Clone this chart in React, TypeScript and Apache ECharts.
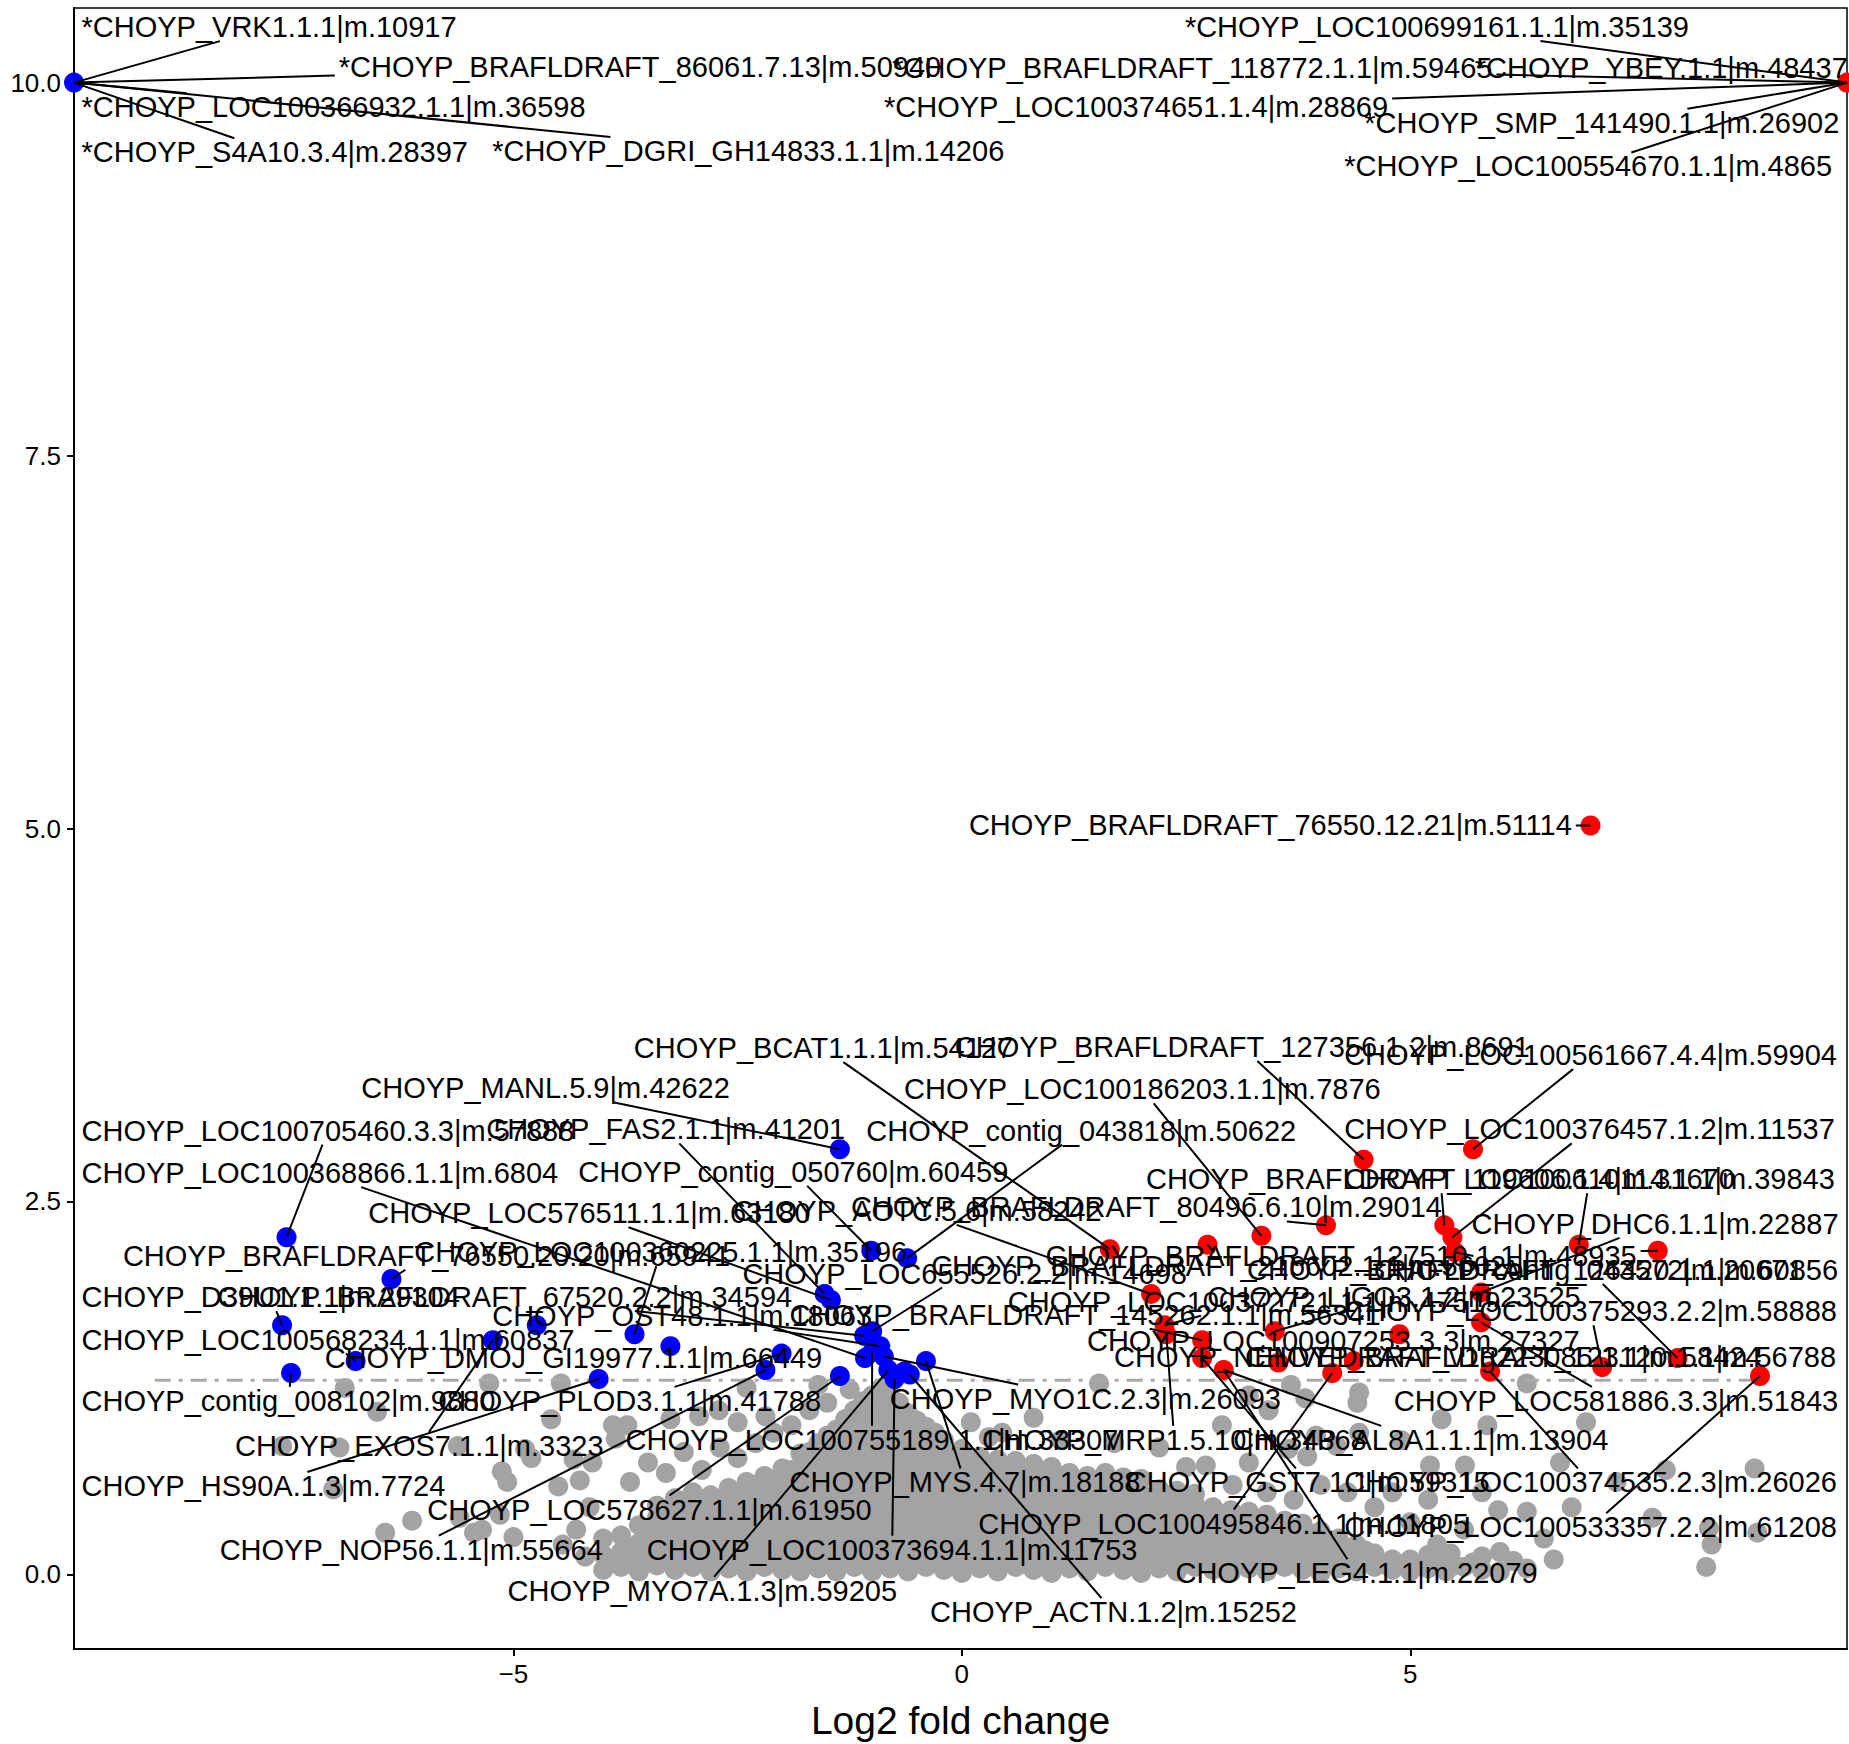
import React, { useEffect, useRef } from "react";
import * as echarts from "echarts";

// ---------- axes ----------
const xTicks = [-5, 0, 5];
const yTicks = [0, 2.5, 5, 7.5, 10];
const xTitle = "Log2 fold change";
const thresholdY = 1.301;
const thresholdX = [-9, 9];

// ---------- non-significant points (grey cloud), columns: [x, ys] ----------
const grayColumns: [number, number[]][] = [
  [-4.0, [0.03, 0.13, 0.24]],
  [-3.9, [0.08]],
  [-3.8, [0.05, 0.15, 0.26]],
  [-3.7, [0.07, 0.18]],
  [-3.6, [0.02, 0.11, 0.21, 0.33]],
  [-3.5, [0.08, 0.19, 0.3]],
  [-3.4, [0.06, 0.16, 0.27, 0.38, 0.46]],
  [-3.3, [0.09, 0.19, 0.29, 0.4]],
  [-3.2, [0.03, 0.12, 0.23, 0.34, 0.44, 0.51]],
  [-3.1, [0.08, 0.18, 0.29, 0.39, 0.49]],
  [-3.0, [0.05, 0.15, 0.25, 0.36, 0.47, 0.55]],
  [-2.9, [0.09, 0.19, 0.3, 0.41, 0.5]],
  [-2.8, [0.02, 0.12, 0.22, 0.32, 0.43, 0.53]],
  [-2.7, [0.08, 0.18, 0.29, 0.4, 0.5]],
  [-2.6, [0.04, 0.14, 0.25, 0.35, 0.46, 0.58]],
  [-2.5, [0.09, 0.19, 0.3, 0.4, 0.52]],
  [-2.4, [0.02, 0.11, 0.21, 0.31, 0.42, 0.52, 0.62]],
  [-2.3, [0.07, 0.17, 0.28, 0.39, 0.5, 0.6]],
  [-2.2, [0.05, 0.15, 0.26, 0.36, 0.47, 0.57, 0.66]],
  [-2.1, [0.09, 0.19, 0.3, 0.41, 0.52, 0.62]],
  [-2.0, [0.03, 0.13, 0.23, 0.33, 0.44, 0.55, 0.64, 0.71]],
  [-1.9, [0.08, 0.18, 0.28, 0.38, 0.49, 0.6, 0.7]],
  [-1.8, [0.02, 0.12, 0.22, 0.32, 0.42, 0.52, 0.62, 0.72, 0.81]],
  [-1.7, [0.07, 0.17, 0.28, 0.39, 0.5, 0.61, 0.72, 0.82]],
  [-1.6, [0.04, 0.14, 0.24, 0.35, 0.45, 0.56, 0.66, 0.77, 0.88]],
  [-1.5, [0.09, 0.19, 0.3, 0.4, 0.5, 0.6, 0.71, 0.82, 0.93]],
  [-1.4, [0.02, 0.12, 0.22, 0.33, 0.43, 0.54, 0.64, 0.75, 0.86, 0.97]],
  [-1.3, [0.08, 0.18, 0.28, 0.39, 0.49, 0.6, 0.71, 0.82, 0.93, 1.04]],
  [-1.2, [0.05, 0.15, 0.25, 0.36, 0.46, 0.57, 0.67, 0.78, 0.89, 1.0, 1.1]],
  [-1.1, [0.07, 0.17, 0.29, 0.4, 0.5, 0.61, 0.72, 0.83, 0.94, 1.05, 1.16]],
  [-1.0, [0.02, 0.12, 0.23, 0.33, 0.44, 0.55, 0.65, 0.76, 0.87, 0.98, 1.09, 1.2]],
  [-0.9, [0.09, 0.19, 0.3, 0.41, 0.51, 0.62, 0.73, 0.83, 0.94, 1.05, 1.16, 1.25]],
  [-0.8, [0.04, 0.14, 0.25, 0.35, 0.46, 0.56, 0.67, 0.78, 0.88, 0.99, 1.1, 1.21]],
  [-0.7, [0.08, 0.18, 0.29, 0.4, 0.51, 0.61, 0.72, 0.83, 0.93, 1.04, 1.15]],
  [-0.6, [0.02, 0.12, 0.22, 0.33, 0.43, 0.54, 0.65, 0.75, 0.86, 0.97, 1.08]],
  [-0.5, [0.07, 0.17, 0.28, 0.39, 0.5, 0.61, 0.72, 0.82, 0.93, 1.03]],
  [-0.4, [0.05, 0.15, 0.26, 0.36, 0.47, 0.57, 0.68, 0.79, 0.9, 0.99]],
  [-0.3, [0.09, 0.19, 0.3, 0.4, 0.51, 0.62, 0.72, 0.84, 0.95]],
  [-0.2, [0.03, 0.13, 0.23, 0.34, 0.44, 0.55, 0.66, 0.77, 0.9]],
  [-0.1, [0.08, 0.18, 0.28, 0.39, 0.49, 0.6, 0.71, 0.8]],
  [0.0, [0.01, 0.11, 0.21, 0.31, 0.42, 0.53, 0.64, 0.75, 0.84]],
  [0.1, [0.07, 0.17, 0.28, 0.39, 0.5, 0.61, 0.72]],
  [0.2, [0.04, 0.14, 0.24, 0.35, 0.46, 0.57, 0.68, 0.79]],
  [0.3, [0.09, 0.19, 0.29, 0.39, 0.5, 0.61, 0.71]],
  [0.4, [0.02, 0.12, 0.22, 0.33, 0.44, 0.55, 0.66, 0.77]],
  [0.5, [0.08, 0.18, 0.29, 0.4, 0.51, 0.62, 0.7]],
  [0.6, [0.05, 0.15, 0.25, 0.36, 0.47, 0.58, 0.69, 0.76]],
  [0.7, [0.07, 0.17, 0.28, 0.39, 0.5, 0.6, 0.69]],
  [0.8, [0.03, 0.13, 0.23, 0.34, 0.45, 0.55, 0.65, 0.74]],
  [0.9, [0.09, 0.19, 0.3, 0.4, 0.5, 0.6, 0.68]],
  [1.0, [0.01, 0.11, 0.21, 0.32, 0.43, 0.53, 0.63, 0.72]],
  [1.1, [0.08, 0.18, 0.28, 0.38, 0.48, 0.58, 0.66]],
  [1.2, [0.04, 0.14, 0.25, 0.35, 0.46, 0.57, 0.68]],
  [1.3, [0.07, 0.17, 0.28, 0.39, 0.5, 0.6]],
  [1.4, [0.02, 0.12, 0.22, 0.33, 0.44, 0.55, 0.66]],
  [1.5, [0.09, 0.19, 0.3, 0.4, 0.51, 0.6]],
  [1.6, [0.05, 0.15, 0.26, 0.36, 0.47, 0.58, 0.68]],
  [1.7, [0.08, 0.18, 0.29, 0.4, 0.5, 0.6]],
  [1.8, [0.03, 0.13, 0.23, 0.34, 0.45, 0.56, 0.65]],
  [1.9, [0.07, 0.17, 0.28, 0.39, 0.5, 0.59]],
  [2.0, [0.01, 0.11, 0.22, 0.32, 0.43, 0.54, 0.64]],
  [2.1, [0.09, 0.19, 0.29, 0.39, 0.5]],
  [2.2, [0.04, 0.14, 0.24, 0.35, 0.46, 0.57]],
  [2.3, [0.08, 0.18, 0.28, 0.38, 0.49]],
  [2.4, [0.02, 0.12, 0.23, 0.33, 0.44, 0.56]],
  [2.5, [0.07, 0.17, 0.28, 0.39, 0.48]],
  [2.6, [0.05, 0.15, 0.26, 0.36, 0.47, 0.54]],
  [2.7, [0.09, 0.19, 0.3, 0.4]],
  [2.8, [0.03, 0.13, 0.23, 0.34, 0.45]],
  [2.9, [0.08, 0.18, 0.28, 0.38]],
  [3.0, [0.01, 0.11, 0.22, 0.32, 0.43]],
  [3.1, [0.07, 0.17, 0.27, 0.37]],
  [3.2, [0.04, 0.14, 0.24, 0.35, 0.42]],
  [3.3, [0.09, 0.19, 0.29]],
  [3.4, [0.02, 0.12, 0.23, 0.33, 0.4]],
  [3.5, [0.08, 0.18, 0.29]],
  [3.6, [0.05, 0.15, 0.26, 0.36]],
  [3.7, [0.07, 0.17, 0.28]],
  [3.8, [0.03, 0.13, 0.23, 0.34]],
  [3.9, [0.09, 0.19, 0.27]],
  [4.0, [0.01, 0.11, 0.21, 0.29]],
  [4.1, [0.08, 0.18]],
  [4.2, [0.04, 0.14, 0.24]],
  [4.3, [0.07, 0.17]],
  [4.4, [0.02, 0.12, 0.2]],
  [4.5, [0.08, 0.16]],
  [4.6, [0.05, 0.14]],
  [4.7, [0.07]],
  [4.8, [0.03, 0.1]],
  [4.9, [0.07]],
  [5.0, [0.02, 0.1]],
  [5.1, [0.06]],
  [5.2, [0.04, 0.13]],
  [5.3, [0.07]],
  [5.4, [0.02, 0.09]],
  [5.5, [0.06]],
  [5.6, [0.05]],
  [5.7, [0.08]],
  [5.8, [0.03, 0.12]],
  [6.0, [0.02]],
  [6.15, [0.09]],
  [6.3, [0.04]],
];

const graySparse: [number, number][] = [
  [-7.58, 0.86], [-6.94, 0.85], [-6.88, 1.25], [-6.52, 1.09], [-7.01, 0.57], [-6.43, 0.28],
  [-6.13, 0.36], [-5.62, 0.86], [-5.27, 1.28], [-5.44, 0.28], [-5.13, 0.69], [-5.07, 0.62],
  [-4.87, 0.84], [-4.8, 0.78], [-4.58, 1.04], [-4.47, 1.28], [-3.89, 1.0], [-3.86, 0.91],
  [-5.6, 0.38], [-5.35, 0.3], [-5.15, 0.4], [-5.0, 0.25], [-4.33, 0.77], [-4.12, 0.75],
  [-4.26, 0.63], [-4.5, 0.59], [-4.3, 0.3], [-4.15, 0.45], [-4.2, 0.12], [-4.45, 0.2],
  [-3.73, 1.0], [-3.25, 1.04], [-2.93, 1.06], [-2.71, 1.1], [-2.5, 1.02], [-2.19, 1.06],
  [-3.7, 0.62], [-3.5, 0.75], [-3.3, 0.68], [-3.1, 0.82], [-2.9, 0.7], [-2.7, 0.85],
  [-2.5, 0.78], [-2.3, 0.88], [-2.1, 0.95], [-1.9, 1.0], [-1.7, 1.1], [-1.5, 1.15],
  [-2.4, 1.25], [-1.6, 1.27], [-1.25, 1.24],
  [0.45, 0.95], [1.1, 0.9], [1.7, 0.88], [2.2, 0.85], [0.1, 1.02], [0.3, 0.92], [1.53, 1.28],
  [0.8, 1.05], [2.5, 0.72],
  [3.67, 1.27], [4.43, 1.22], [3.83, 1.18], [4.41, 1.15], [3.42, 1.1], [3.95, 0.93], [4.18, 0.86],
  [4.43, 0.95], [3.64, 0.84], [3.85, 0.79], [2.72, 0.73], [3.02, 0.6], [3.2, 0.75], [3.4, 0.55],
  [3.7, 0.5], [4.0, 0.6], [4.3, 0.55], [4.6, 0.45], [4.8, 0.55], [2.9, 1.0], [3.2, 1.2],
  [5.35, 1.04], [5.86, 1.0], [5.22, 0.73], [5.61, 0.73], [5.98, 0.43], [6.3, 0.42], [6.3, 1.28],
  [6.96, 1.02], [8.84, 0.71], [8.36, 0.2], [8.87, 0.28], [7.85, 0.7], [6.49, 0.24], [6.67, 0.75],
  [5.45, 0.14], [5.0, 0.35], [5.2, 0.5], [4.9, 0.9], [5.6, 0.3], [6.0, 0.15], [6.8, 0.45],
  [7.3, 0.62], [7.7, 0.38], [8.33, 0.31], [5.3, 0.2], [5.8, 0.55], [8.3, 0.05], [6.6, 0.1],
];

// ---------- significant points ----------
const bluePoints: [number, number][] = [
  [-9.9, 10], [-7.53, 2.26], [-6.36, 1.98], [-7.58, 1.67], [-7.48, 1.35], [-6.76, 1.43],
  [-5.23, 1.57], [-4.74, 1.67], [-4.05, 1.31], [-3.65, 1.61], [-3.25, 1.53], [-2.01, 1.48],
  [-2.19, 1.37], [-1.36, 1.33], [-1.36, 2.85], [-1.01, 2.17], [-0.61, 2.12], [-1.53, 1.88],
  [-1.46, 1.84], [-1.09, 1.6], [-1.0, 1.63], [-1.08, 1.45], [-1.0, 1.49], [-0.87, 1.46],
  [-0.82, 1.37], [-0.75, 1.31], [-0.64, 1.36], [-0.58, 1.34], [-0.4, 1.43], [-0.91, 1.53],
];

const redPoints: [number, number][] = [
  [9.87, 10], [7.01, 5.02], [1.65, 2.18], [2.74, 2.21], [3.34, 2.27], [4.06, 2.34],
  [4.48, 2.78], [5.7, 2.85], [5.38, 2.34], [5.47, 2.26], [5.5, 2.16], [6.88, 2.21],
  [7.76, 2.17], [2.11, 1.88], [2.26, 1.67], [2.28, 1.61], [2.68, 1.57], [2.68, 1.45],
  [2.92, 1.37], [3.49, 1.63], [3.53, 1.42], [4.13, 1.35], [4.37, 1.43], [4.88, 1.61],
  [5.79, 1.89], [5.79, 1.69], [5.89, 1.36], [7.14, 1.39], [7.98, 1.45], [8.9, 1.33],
];

// ---------- labels ----------
const labelTexts: string[] = [
  "*CHOYP_VRK1.1.1|m.10917",
  "*CHOYP_BRAFLDRAFT_86061.7.13|m.50940",
  "*CHOYP_LOC100366932.1.1|m.36598",
  "*CHOYP_S4A10.3.4|m.28397",
  "*CHOYP_DGRI_GH14833.1.1|m.14206",
  "*CHOYP_LOC100699161.1.1|m.35139",
  "*CHOYP_BRAFLDRAFT_118772.1.1|m.59465",
  "*CHOYP_YBEY.1.1|m.48437",
  "*CHOYP_LOC100374651.1.4|m.28869",
  "*CHOYP_SMP_141490.1.1|m.26902",
  "*CHOYP_LOC100554670.1.1|m.4865",
  "CHOYP_BRAFLDRAFT_76550.12.21|m.51114",
  "CHOYP_LOC100705460.3.3|m.57888",
  "CHOYP_FAS2.1.1|m.41201",
  "CHOYP_MANL.5.9|m.42622",
  "CHOYP_BCAT1.1.1|m.54127",
  "CHOYP_LOC100368866.1.1|m.6804",
  "CHOYP_contig_050760|m.60459",
  "CHOYP_contig_043818|m.50622",
  "CHOYP_LOC576511.1.1|m.63180",
  "CHOYP_AOTC.5.6|m.58242",
  "CHOYP_BRAFLDRAFT_76550.20.20|m.65941",
  "CHOYP_LOC100360225.1.1|m.35196",
  "CHOYP_D39U1.1.1|m.29304",
  "CHOYP_BRAFLDRAFT_67520.2.2|m.34594",
  "CHOYP_LOC100568234.1.1|m.60837",
  "CHOYP_OST48.1.1|m.18063",
  "CHOYP_DMOJ_GI19977.1.1|m.66449",
  "CHOYP_contig_008102|m.9880",
  "CHOYP_PLOD3.1.1|m.41788",
  "CHOYP_EXOS7.1.1|m.3323",
  "CHOYP_HS90A.1.3|m.7724",
  "CHOYP_NOP56.1.1|m.55664",
  "CHOYP_LOC578627.1.1|m.61950",
  "CHOYP_LOC100755189.1.1|m.33307",
  "CHOYP_MYO1C.2.3|m.26093",
  "CHOYP_MYS.4.7|m.18188",
  "CHOYP_LOC100373694.1.1|m.11753",
  "CHOYP_MYO7A.1.3|m.59205",
  "CHOYP_ACTN.1.2|m.15252",
  "CHOYP_BRAFLDRAFT_127356.1.2|m.8691",
  "CHOYP_LOC100561667.4.4|m.59904",
  "CHOYP_LOC100186203.1.1|m.7876",
  "CHOYP_LOC100376457.1.2|m.11537",
  "CHOYP_BRAFLDRAFT_80496.6.10|m.29014",
  "CHOYP_BRAFLDRAFT_119606.1.4|m.31670",
  "CHOYP_LOC100610114.1.1|m.39843",
  "CHOYP_DHC6.1.1|m.22887",
  "CHOYP_BRAFLDRAFT_127510.1.1|m.48935",
  "CHOYP_contig_043572|m.20671",
  "CHOYP_LOC655526.2.2|m.14698",
  "CHOYP_BRAFLDRAFT_216602.1.1|m.56025",
  "CHOYP_BRAFLDRAFT_126420.1.1|m.60856",
  "CHOYP_LOC100372721.1.1|m.47519",
  "CHOYP_LIGO3.1.2|m.23525",
  "CHOYP_LOC100375293.2.2|m.58888",
  "CHOYP_LOC100907253.3.3|m.27327",
  "CHOYP_NEMVEDRAFT_v1g223085.1.1|m.58424",
  "CHOYP_BRAFLDRAFT_123120.1.1|m.56788",
  "CHOYP_LOC581886.3.3|m.51843",
  "CHOYP_AL8A1.1.1|m.13904",
  "CHOYP_GST7.1.1|m.59315",
  "CHOYP_LOC100374535.2.3|m.26026",
  "CHOYP_LOC100495846.1.1|m.11805",
  "CHOYP_LOC100533357.2.2|m.61208",
  "CHOYP_LEG4.1.1|m.22079",
  "CHOYP_MRP1.5.10|m.34368",
  "CHOYP_BRAFLDRAFT_145262.1.1|m.56341",
];

// which point each label belongs to: "b<i>" blue, "r<i>" red
const labelPointRefs: string[] = [
  "b0", "b0", "b0", "b0", "b0", "r0", "r0", "r0", "r0", "r0", "r0", "r1",
  "b1", "b17", "b14", "r2", "b21", "b15", "b16", "b18", "r13", "b2", "b9", "b3",
  "b19", "b5", "b29", "b10", "b4", "b11", "b6", "b8", "b12", "b13", "b22", "b23",
  "b28", "b25", "b24", "b27",
  "r6", "r7", "r4", "r9", "r5", "r8", "r11", "r24", "r12", "r28", "b20", "r3",
  "r10", "r14", "r19", "r27", "r23", "r20", "r22", "r25", "r18", "r17", "r26", "r21",
  "r29", "r18", "r15", "r16",
];

// label anchor: [left x, centre y] in data units
const labelAnchors: [number, number][] = [
  [-9.816, 10.372], [-6.947, 10.103], [-9.816, 9.834], [-9.816, 9.533], [-5.237, 9.541],
  [2.487, 10.372], [-0.776, 10.1], [5.72, 10.095], [-0.868, 9.834], [4.487, 9.731], [4.263, 9.438],
  [0.079, 5.024],
  [-9.816, 2.975], [-5.303, 2.983], [-6.697, 3.259], [-3.658, 3.528], [-9.816, 2.69],
  [-4.276, 2.698], [-1.066, 2.975], [-6.618, 2.421], [-2.553, 2.437], [-9.355, 2.136],
  [-6.105, 2.16], [-9.816, 1.859], [-8.303, 1.859], [-9.816, 1.574], [-5.237, 1.733],
  [-7.105, 1.448], [-9.816, 1.163], [-5.842, 1.163], [-8.105, 0.862], [-9.816, 0.593],
  [-8.276, 0.166], [-5.961, 0.435], [-3.75, 0.902], [-0.803, 1.179], [-1.921, 0.617],
  [-3.513, 0.166], [-5.066, -0.111], [-0.355, -0.253],
  [-0.079, 3.536], [4.263, 3.481], [-0.645, 3.252], [4.263, 2.983], [-1.237, 2.46],
  [2.053, 2.65], [4.263, 2.65], [5.684, 2.35], [0.934, 2.136], [4.592, 2.041],
  [-2.447, 2.017], [-0.342, 2.065], [3.18, 2.041], [0.513, 1.828], [2.737, 1.859],
  [4.263, 1.764], [1.395, 1.566], [1.697, 1.456], [3.158, 1.456], [4.816, 1.163],
  [3.026, 0.902], [1.829, 0.617], [4.263, 0.617], [0.184, 0.34], [4.263, 0.316],
  [2.382, 0.008], [0.224, 0.902], [-1.921, 1.74],
];

const FONT = "Liberation Sans";
const LABEL_SIZE = 29;
const POINT_SIZE = 20;

export default function App() {
  const ref = useRef<HTMLDivElement>(null);

  useEffect(() => {
    if (!ref.current) return;
    const chart = echarts.init(ref.current, null, { renderer: "svg" });

    const ctx = document.createElement("canvas").getContext("2d")!;
    ctx.font = `${LABEL_SIZE}px "${FONT}"`;
    const widths = labelTexts.map((t) => ctx.measureText(t).width);

    const grayData: [number, number][] = [];
    grayColumns.forEach(([x, ys]) => ys.forEach((y) => grayData.push([x, y])));
    graySparse.forEach((p) => grayData.push(p));

    const refPoint = (r: string): [number, number] => {
      const idx = parseInt(r.slice(1), 10);
      return r[0] === "b" ? bluePoints[idx] : redPoints[idx];
    };
    const labelData = labelTexts.map((_, i) => {
      const p = refPoint(labelPointRefs[i]);
      return [p[0], p[1], labelAnchors[i][0], labelAnchors[i][1], i];
    });

    const HALF_H = 14;
    const PAD = 4;

    const segmentItem = (params: any, api: any) => {
      const i = api.value(4);
      const p = api.coord([api.value(0), api.value(1)]);
      const l = api.coord([api.value(2), api.value(3)]);
      const x0 = l[0] - PAD;
      const x1 = l[0] + widths[i] + PAD;
      const y0 = l[1] - HALF_H;
      const y1 = l[1] + HALF_H;
      if (p[0] >= x0 && p[0] <= x1 && p[1] >= y0 && p[1] <= y1) return null;
      const cx = (x0 + x1) / 2;
      const cy = l[1];
      const dx = cx - p[0];
      const dy = cy - p[1];
      const ts: number[] = [];
      if (dx !== 0) {
        for (const bx of [x0, x1]) {
          const t = (bx - p[0]) / dx;
          const yy = p[1] + t * dy;
          if (t >= 0 && t <= 1 && yy >= y0 - 0.01 && yy <= y1 + 0.01) ts.push(t);
        }
      }
      if (dy !== 0) {
        for (const by of [y0, y1]) {
          const t = (by - p[1]) / dy;
          const xx = p[0] + t * dx;
          if (t >= 0 && t <= 1 && xx >= x0 - 0.01 && xx <= x1 + 0.01) ts.push(t);
        }
      }
      if (!ts.length) return null;
      const t = Math.min(...ts);
      const ex = p[0] + t * dx;
      const ey = p[1] + t * dy;
      if (Math.hypot(ex - p[0], ey - p[1]) < 8) return null;
      return {
        type: "line",
        shape: { x1: p[0], y1: p[1], x2: ex, y2: ey },
        style: { stroke: "#000", lineWidth: 2 },
      };
    };

    const textItem = (params: any, api: any) => {
      const i = api.value(4);
      const l = api.coord([api.value(2), api.value(3)]);
      return {
        type: "text",
        x: l[0],
        y: l[1],
        style: {
          text: labelTexts[i],
          fill: "#000",
          fontSize: LABEL_SIZE,
          fontFamily: FONT,
          align: "left",
          verticalAlign: "middle",
        },
      };
    };

    const fmtX = (v: number) => (v < 0 ? "\u2212" + Math.abs(v) : String(v));

    chart.setOption({
      animation: false,
      backgroundColor: "#ffffff",
      grid: {
        left: 74,
        right: 2,
        top: 8,
        bottom: 95,
        show: true,
        borderColor: "#000",
        borderWidth: 1.5,
        backgroundColor: "transparent",
        containLabel: false,
        outerBoundsMode: "none",
      },
      xAxis: {
        type: "value",
        min: -9.9,
        max: 9.87,
        axisLine: { show: true, onZero: false, lineStyle: { color: "#000", width: 2 } },
        axisTick: { show: true, customValues: xTicks, length: 7, lineStyle: { color: "#000", width: 2 } },
        axisLabel: {
          customValues: xTicks,
          formatter: fmtX,
          fontSize: 26,
          fontFamily: FONT,
          color: "#000",
          margin: 12,
        },
        splitLine: { show: false },
        name: xTitle,
        nameLocation: "middle",
        nameGap: 52,
        nameTextStyle: { fontSize: 39, fontFamily: FONT, color: "#000" },
      },
      yAxis: {
        type: "value",
        min: -0.5,
        max: 10.5,
        axisLine: { show: true, onZero: false, lineStyle: { color: "#000", width: 2 } },
        axisTick: { show: true, customValues: yTicks, length: 7, lineStyle: { color: "#000", width: 2 } },
        axisLabel: {
          customValues: yTicks,
          formatter: (v: number) => v.toFixed(1),
          fontSize: 26,
          fontFamily: FONT,
          color: "#000",
          margin: 13,
        },
        splitLine: { show: false },
      },
      series: [
        {
          type: "scatter",
          data: grayData,
          symbolSize: POINT_SIZE,
          itemStyle: { color: "#a3a3a3", opacity: 1 },
          silent: true,
          z: 2,
        },
        {
          type: "line",
          data: [
            [thresholdX[0], thresholdY],
            [thresholdX[1], thresholdY],
          ],
          symbol: "none",
          lineStyle: { color: "#aaaaaa", width: 3, type: [16, 8, 4, 8] },
          silent: true,
          z: 3,
        },
        {
          type: "scatter",
          data: bluePoints,
          symbolSize: POINT_SIZE,
          itemStyle: { color: "#0000ff", opacity: 1 },
          clip: true,
          silent: true,
          z: 4,
        },
        {
          type: "scatter",
          data: redPoints,
          symbolSize: POINT_SIZE,
          itemStyle: { color: "#ff0000", opacity: 1 },
          clip: true,
          silent: true,
          z: 4,
        },
        {
          type: "custom",
          data: labelData,
          renderItem: segmentItem,
          clip: false,
          silent: true,
          z: 5,
        },
        {
          type: "custom",
          data: labelData,
          renderItem: textItem,
          clip: false,
          silent: true,
          z: 6,
        },
      ],
    });

    return () => chart.dispose();
  }, []);

  return (
    <div
      ref={ref}
      style={{ position: "absolute", left: 0, top: 0, width: 1849, height: 1744 }}
    />
  );
}
